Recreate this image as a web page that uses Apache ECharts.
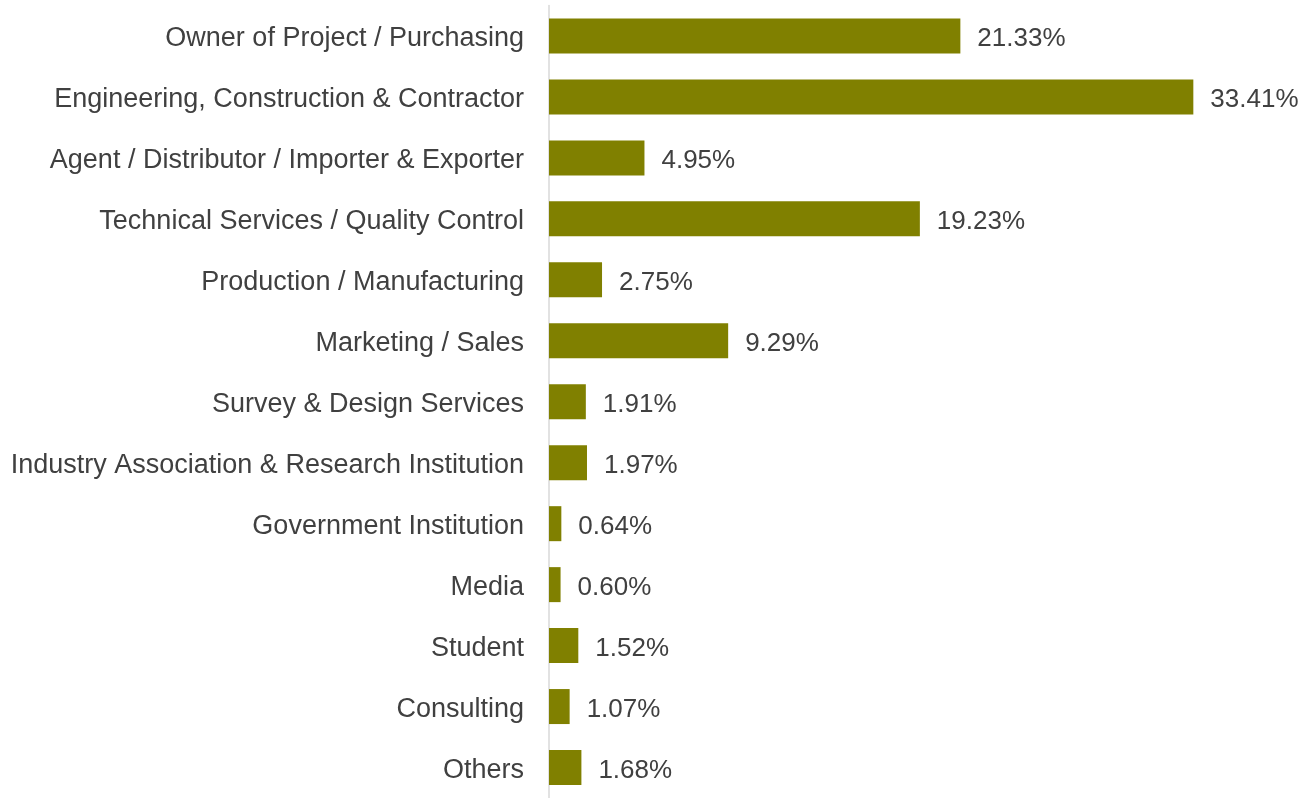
<!DOCTYPE html>
<html><head><meta charset="utf-8">
<script src="https://cdn.jsdelivr.net/npm/echarts@6/dist/echarts.min.js"></script>
<style>html,body{margin:0;padding:0;background:#fff}#c{width:1308px;height:798px}</style>
</head><body><div id="c"></div>
<script>
const categories = [
  "Owner of Project / Purchasing",
  "Engineering, Construction & Contractor",
  "Agent / Distributor / Importer & Exporter",
  "Technical Services / Quality Control",
  "Production / Manufacturing",
  "Marketing / Sales",
  "Survey & Design Services",
  "Industry Association & Research Institution",
  "Government Institution",
  "Media",
  "Student",
  "Consulting",
  "Others"
];
const values = [21.33, 33.41, 4.95, 19.23, 2.75, 9.29, 1.91, 1.97, 0.64, 0.60, 1.52, 1.07, 1.68];

const FONT = "'Liberation Sans', Arial, sans-serif";
const chart = echarts.init(document.getElementById('c'), null, {renderer: 'canvas'});
chart.setOption({
  animation: false,
  grid: {left: 549, top: 5.5, width: 675, height: 798.5, containLabel: false},
  xAxis: {type: 'value', min: 0, max: 35, show: false},
  yAxis: {
    type: 'category', data: categories, inverse: true,
    axisLine: {show: true, lineStyle: {color: '#d9d9d9', width: 1.5}},
    axisTick: {show: false},
    splitLine: {show: false},
    axisLabel: {
      margin: 25,
      formatter: v => '{a|' + v + '}',
      rich: {a: {color: '#404040', fontSize: 27, fontFamily: FONT, padding: [6, 0, 0, 0]}}
    }
  },
  series: [{
    type: 'bar', data: values, barWidth: 35,
    itemStyle: {color: '#808000'},
    label: {show: true, position: 'right', distance: 17, offset: [0, 3], color: '#404040', fontSize: 26,
      fontFamily: FONT,
      formatter: p => p.value.toFixed(2) + '%'}
  }]
});
</script></body></html>
